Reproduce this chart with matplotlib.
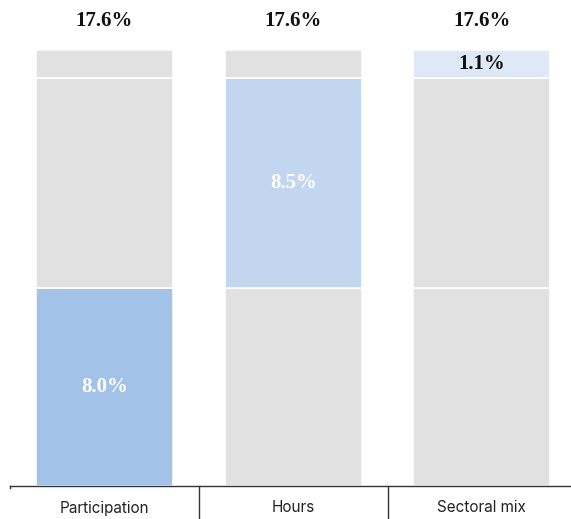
import matplotlib.pyplot as plt
import numpy as np

# contribution of each component, percentage points
categories = ["Participation", "Hours", "Sectoral mix"]
components = [8.0, 8.5, 1.1]
total = 17.6

# which segment is highlighted in each column
highlight_colors = ["#a2c2e8", "#c2d6ef", "#dee8f6"]
label_colors = ["white", "white", "#111111"]
grey = "#e1e1e1"

serif = ["Liberation Serif", "DejaVu Serif"]
sans = ["Inter", "DejaVu Sans"]

fig = plt.figure(figsize=(5.71, 5.19), dpi=100)
ax = fig.add_axes([0, 33 / 519, 1, 486 / 519])

x = np.arange(len(categories))
bottoms = np.concatenate([[0], np.cumsum(components)[:-1]])

for i, cat in enumerate(categories):
    for j, (val, base) in enumerate(zip(components, bottoms)):
        color = highlight_colors[i] if i == j else grey
        ax.bar(x[i], val, bottom=base, width=0.726, color=color,
               edgecolor="white", linewidth=1.2)
        if i == j:
            ax.text(x[i], base + val / 2, f"{val:.1f}%", ha="center", va="center",
                    fontsize=15, fontweight="bold", family=serif, color=label_colors[i])
    # total above each column
    ax.annotate(f"{total:.1f}%", (x[i], total), xytext=(0, 29),
                textcoords="offset pixels", ha="center", va="center",
                fontsize=15, fontweight="bold", family=serif, color="#111111")
    # category name under the axis
    ax.annotate(cat, (x[i], 0), xytext=(0, -22), textcoords="offset pixels",
                ha="center", va="center", fontsize=11, family=sans, color="#222222",
                annotation_clip=False)

ax.set_xlim(-0.554, 2.472)
ax.set_ylim(0, 486 / 24.75)

for s in ["top", "right", "left", "bottom"]:
    ax.spines[s].set_visible(False)
ax.set_yticks([])
ax.set_xticks([])

# baseline and separators between columns
ax.plot([10 / 571, 1], [0, 0], transform=ax.transAxes, color="#333333",
        linewidth=1.0, clip_on=False)
ax.plot([10 / 571, 10 / 571], [0, -2 / 486], transform=ax.transAxes,
        color="#333333", linewidth=1.0, clip_on=False)
for sep in [0.5, 1.5]:
    ax.plot([sep, sep], [0, -32 / 24.75], color="#333333", linewidth=1.0,
            clip_on=False)

fig.savefig("out.png", dpi=100)
